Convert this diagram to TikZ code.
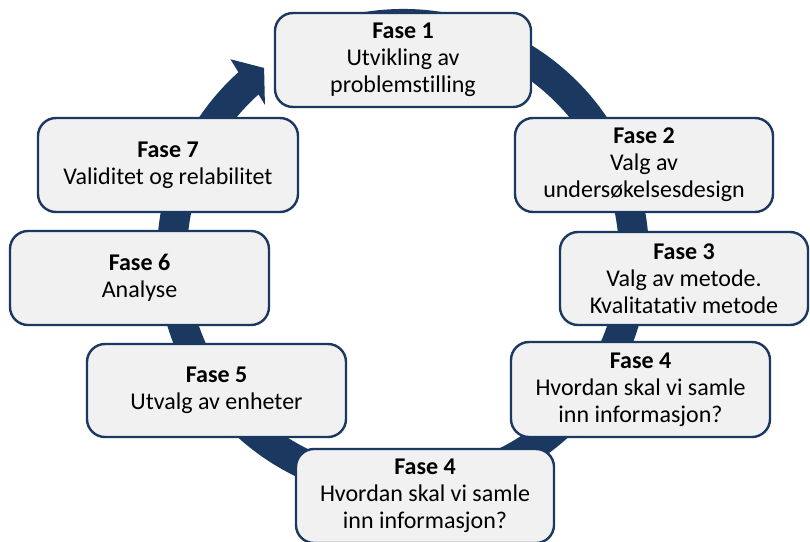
\documentclass[tikz,border=0pt]{standalone}
\usepackage{fontspec}
\setmainfont{Carlito}[Ligatures=NoCommon]
\definecolor{ringblue}{RGB}{27,57,96}
\definecolor{boxfill}{RGB}{241,241,241}
\tikzset{
  phase/.style={draw=ringblue, line width=2.4pt, fill=boxfill, rounded corners=18pt,
    align=center, inner sep=0pt, font=\fontsize{24}{27}\selectfont},
}
\newcommand{\phasebox}[6]{%
  \node[phase, minimum width={#4-#2}, minimum height={#5-#3}] (#1)
    at ({(#2+#4)/2},{(#3+#5)/2}) {#6};}
\begin{document}
\begin{tikzpicture}[x=1pt,y=-1pt]
\useasboundingbox (0,0) rectangle (810,541);
% circular arrow running clockwise round the phases
\begin{scope}[shift={(403,255)}, yscale=-1]
  \fill[ringblue] (100:246) arc[start angle=100, end angle=-228, radius=246]
    -- (-228.6:261) -- (-233.4:233) -- (-227.4:204)
    -- (-228:216) arc[start angle=-228, end angle=100, radius=216] -- cycle;
\end{scope}
% phase boxes
\phasebox{f1}{275}{13}{531}{107}{\textbf{Fase 1}\\Utvikling av\\problemstilling}
\phasebox{f2}{515}{118}{773}{212}{\textbf{Fase 2}\\Valg av\\undersøkelsesdesign}
\phasebox{f3}{560}{232}{808}{325}{\textbf{Fase 3}\\Valg av metode.\\Kvalitatativ metode}
\phasebox{f4a}{511}{342}{770}{437}{\textbf{Fase 4}\\Hvordan skal vi samle\\inn informasjon?}
\phasebox{f4b}{296}{449}{554}{543}{\textbf{Fase 4}\\Hvordan skal vi samle\\inn informasjon?}
\phasebox{f5}{87}{344}{346}{437}{\textbf{Fase 5}\\Utvalg av enheter}
\phasebox{f6}{10}{231}{269}{325}{\textbf{Fase 6}\\Analyse}
\phasebox{f7}{38}{118}{298}{212}{\textbf{Fase 7}\\Validitet og relabilitet}
\end{tikzpicture}
\end{document}
